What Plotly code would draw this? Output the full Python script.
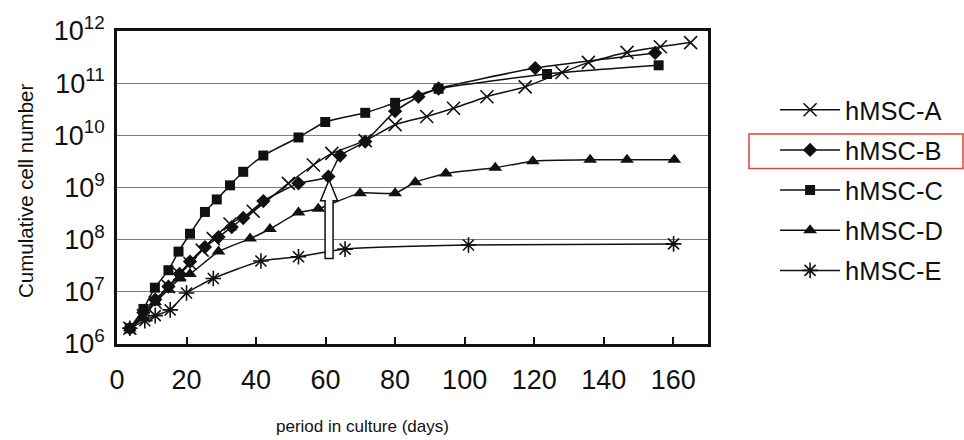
import plotly.graph_objects as go

# ---------------- data ----------------
series_names = ["hMSC-A", "hMSC-B", "hMSC-C", "hMSC-D", "hMSC-E"]

a_days = [3.7, 7.6, 11, 14.8, 18, 21, 24.5, 27.7, 32.5, 39.2, 49.3, 56.5, 61.8, 71.4,
          80, 89.1, 96.8, 106.4, 117.4, 128, 135.6, 146.7, 156.3, 165]
a_cells = [2.0e6, 3.5e6, 6.3e6, 1.26e7, 2.2e7, 3.5e7, 6.3e7, 1.05e8, 2.0e8, 3.5e8, 1.2e9,
           2.7e9, 4.5e9, 7.9e9, 1.6e10, 2.3e10, 3.3e10, 5.5e10, 8.5e10, 1.6e11, 2.5e11,
           3.9e11, 5.0e11, 6.0e11]

b_days = [3.7, 7.6, 11, 14.8, 18, 21, 25.3, 29.2, 33, 36.3, 42.1, 52.2, 60.8, 64.2, 71.4,
          80, 86.7, 92.5, 120.3, 154.8]
b_cells = [2.0e6, 4.0e6, 7.1e6, 1.26e7, 2.2e7, 3.8e7, 7.2e7, 1.12e8, 1.74e8, 2.6e8, 5.5e8,
           1.2e9, 1.62e9, 4.1e9, 7.6e9, 2.9e10, 5.5e10, 7.9e10, 1.95e11, 3.8e11]

c_days = [3.7, 7.6, 10.9, 14.8, 17.7, 21, 25.3, 28.7, 32.5, 36.3, 42.1, 52.2, 59.9, 71.4,
          80, 92.5, 123.7, 155.8]
c_cells = [2.0e6, 4.7e6, 1.2e7, 2.6e7, 5.9e7, 1.3e8, 3.4e8, 5.9e8, 1.1e9, 2.0e9, 4.1e9,
           9.1e9, 1.8e10, 2.7e10, 4.2e10, 7.8e10, 1.5e11, 2.2e11]

d_days = [3.7, 7.6, 11, 14.8, 18, 21, 29.2, 38.3, 44, 52.2, 57.9, 69.9, 80, 85.8, 94.6,
          108.8, 119.6, 136.1, 146.7, 160.3]
d_cells = [2.0e6, 3.2e6, 6.3e6, 1.1e7, 1.8e7, 2.2e7, 5.9e7, 1.05e8, 1.6e8, 3.3e8, 3.9e8,
           7.8e8, 7.8e8, 1.26e9, 1.86e9, 2.4e9, 3.2e9, 3.4e9, 3.4e9, 3.4e9]

e_days = [3.7, 8, 11, 15.3, 20, 27.7, 41.4, 52.2, 65.6, 101.1, 160.1]
e_cells = [2.0e6, 2.8e6, 3.5e6, 4.5e6, 9.5e6, 1.8e7, 3.9e7, 4.7e7, 6.6e7, 7.9e7, 8.3e7]

x_ticks = [0, 20, 40, 60, 80, 100, 120, 140, 160]
y_exponents = [6, 7, 8, 9, 10, 11, 12]
arrow_day = 61

# ---------------- figure ----------------
FONT = "Liberation Sans, Arial, sans-serif"
INK = "#111111"

styles = [
    dict(symbol="x-thin-open", size=13, line=dict(width=1.6, color=INK)),
    dict(symbol="diamond", size=11, color=INK),
    dict(symbol="square", size=10, color=INK),
    dict(symbol="triangle-up", size=12, color=INK),
    dict(symbol="asterisk-open", size=13, line=dict(width=1.6, color=INK)),
]
all_days = [a_days, b_days, c_days, d_days, e_days]
all_cells = [a_cells, b_cells, c_cells, d_cells, e_cells]

fig = go.Figure()
for i, (name, xs, ys, mk) in enumerate(zip(series_names, all_days, all_cells, styles)):
    fig.add_trace(go.Scatter(
        x=xs, y=ys, name=name, mode="lines+markers",
        line=dict(color=INK, width=1.5, shape="spline", smoothing=0.5),
        marker=mk, legendgroup=f"g{i}",
    ))

fig.update_layout(
    width=964, height=440,
    margin=dict(l=117, r=256, t=25, b=96),
    paper_bgcolor="white", plot_bgcolor="white",
    font=dict(family=FONT, color=INK),
    showlegend=True,
    legend=dict(
        x=1.1135, y=0.822, xanchor="left", yanchor="top",
        font=dict(size=25.5, family=FONT, color=INK),
        tracegroupgap=4, itemwidth=60,
        bgcolor="rgba(0,0,0,0)",
    ),
)

fig.update_xaxes(
    range=[0, 170], tickvals=x_ticks, ticktext=[str(v) for v in x_ticks],
    ticks="inside", ticklen=7, tickwidth=1.5, tickcolor=INK,
    showgrid=False, zeroline=False,
    showline=True, linewidth=2.5, linecolor=INK, mirror=True,
    tickfont=dict(size=27, family=FONT, color=INK),
    ticklabelstandoff=10,
)
fig.update_yaxes(
    type="log", range=[6, 12],
    tickvals=[10 ** e for e in y_exponents],
    ticktext=[f"10<sup>{e}</sup>" for e in y_exponents],
    ticks="", showgrid=True, gridcolor="#74807f", gridwidth=1,
    zeroline=False,
    showline=True, linewidth=2.5, linecolor=INK, mirror=True,
    tickfont=dict(size=27, family=FONT, color=INK),
    ticklabelstandoff=4,
)

# axis titles as annotations
fig.add_annotation(text="Cumulative cell number", xref="paper", yref="paper",
                   x=-0.178, y=0.49, textangle=-90, showarrow=False,
                   font=dict(size=20.5, family=FONT, color=INK))
fig.add_annotation(text="period in culture (days)", xref="paper", yref="paper",
                   x=0.415, y=-0.30, showarrow=False,
                   font=dict(size=17, family=FONT, color=INK))

# open arrow marking the transfer point
fig.add_shape(
    type="path", xref="x", yref="paper", xsizemode="pixel", xanchor=arrow_day,
    path="M -4,0.273 L 4,0.273 L 4,0.458 L 8.5,0.458 L 0,0.524 L -8.5,0.458 L -4,0.458 Z",
    fillcolor="white", line=dict(color=INK, width=1.5), layer="above",
)

# red highlight box around hMSC-B legend entry
fig.add_shape(type="rect", xref="paper", yref="paper",
              x0=1.0694, x1=1.4315, y0=0.5611, y1=0.6708,
              line=dict(color="#d9453a", width=1.5), fillcolor="rgba(0,0,0,0)")

fig.write_html("out.html")
